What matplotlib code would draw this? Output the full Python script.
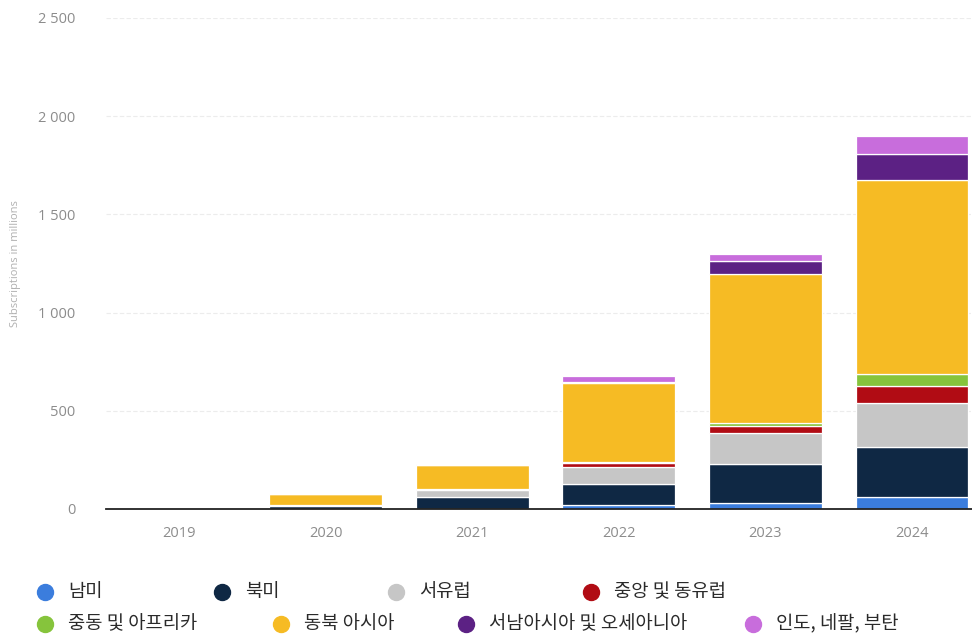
import matplotlib
matplotlib.use("Agg")
import matplotlib.pyplot as plt
from matplotlib.lines import Line2D
from matplotlib.ticker import FuncFormatter
import numpy as np

plt.rcParams['font.family'] = ['Open Sans', 'Noto Sans CJK KR', 'DejaVu Sans']

years = ["2019", "2020", "2021", "2022", "2023", "2024"]

regions = ["남미", "북미", "서유럽", "중앙 및 동유럽",
           "중동 및 아프리카", "동북 아시아", "서남아시아 및 오세아니아", "인도, 네팔, 부탄"]

south_america   = [0, 1, 2, 20, 30, 60]
north_america   = [0, 12, 58, 108, 200, 258]
western_europe  = [0, 6, 38, 85, 155, 224]
central_eastern = [0, 1, 3, 22, 40, 83]
mideast_africa  = [0, 1, 2, 5, 12, 63]
northeast_asia  = [0, 55, 122, 400, 760, 985]
southeast_asia  = [0, 1, 1, 8, 65, 137]
india_nepal     = [0, 0, 1, 30, 35, 90]

series = [south_america, north_america, western_europe, central_eastern,
          mideast_africa, northeast_asia, southeast_asia, india_nepal]

colors = ["#3b7ddd", "#0f2844", "#c6c6c6", "#b10c14",
          "#86c43c", "#f6bb24", "#5c2184", "#c86ddc"]

yticks = [0, 500, 1000, 1500, 2000, 2500]

fig = plt.figure(figsize=(9.72, 6.38), dpi=100)
ax = fig.add_axes([0.109, 0.2022, 0.891, 0.7696])

x = np.arange(len(years))
bottom = np.zeros(len(years))
for vals, col in zip(series, colors):
    v = np.array(vals, dtype=float)
    ax.bar(x, v, bottom=bottom, width=0.77, color=col,
           edgecolor="white", linewidth=0.9, zorder=3)
    bottom += v

ax.set_xlim(-0.5, 5.41)
ax.set_ylim(0, 2500)
ax.set_yticks(yticks)
ax.yaxis.set_major_formatter(FuncFormatter(lambda v, p: f"{int(v):,}".replace(",", " ")))
ax.set_xticks(x)
ax.set_xticklabels(years)

for s in ["top", "right", "left"]:
    ax.spines[s].set_visible(False)
ax.spines["bottom"].set_color("#222222")
ax.spines["bottom"].set_linewidth(1.3)
ax.spines["bottom"].set_zorder(4)

ax.grid(axis="y", color="#ececec", linewidth=0.8, linestyle=(0, (4, 2)), zorder=0)
ax.tick_params(axis="y", length=0, pad=22, labelsize=10.5, labelcolor="#8c8c8c")
ax.tick_params(axis="x", length=0, pad=12, labelsize=10.5, labelcolor="#8c8c8c")

ax.set_ylabel("Subscriptions in millions", fontsize=8, color="#b0b0b0", labelpad=12)

# legend rows placed as a flowing layout
legend_pos = [(45, 592), (222, 592), (396, 592), (591, 592),
              (45, 624), (281, 624), (466, 624), (753, 624)]
W, H = 972, 638
for (px, py), name, col in zip(legend_pos, regions, colors):
    fx, fy = px / W, 1 - py / H
    fig.add_artist(Line2D([fx], [fy], marker="o", markersize=11.5, color=col,
                          linestyle="none", transform=fig.transFigure))
    fig.text(fx + 23 / W, fy, name, fontsize=13.5, color="#2a2a2a", va="center",
             ha="left", family=["Noto Sans CJK KR", "DejaVu Sans"])

fig.savefig("out.png", dpi=100, facecolor="white")
